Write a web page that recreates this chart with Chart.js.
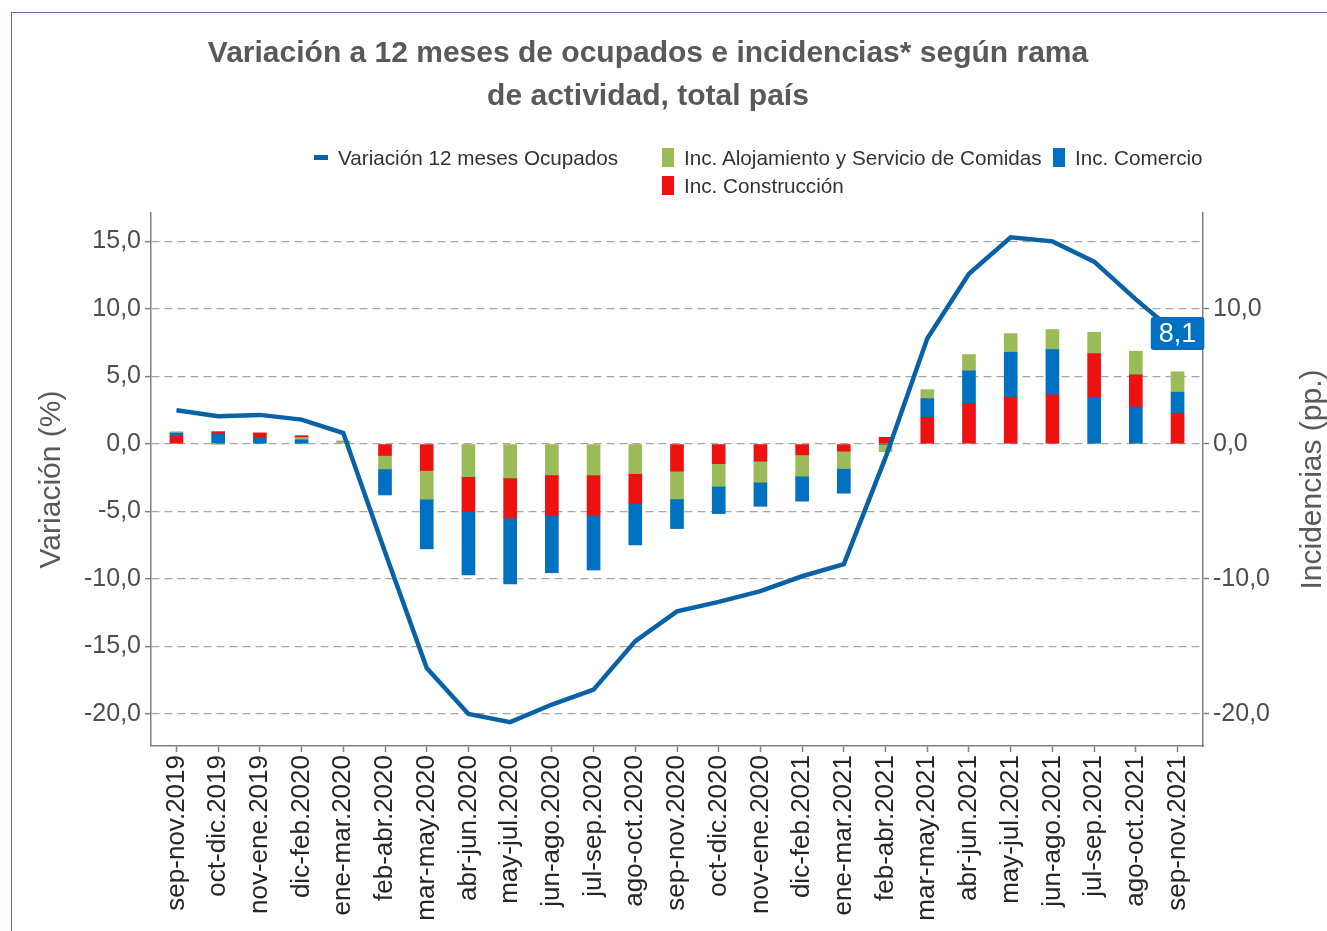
<!DOCTYPE html>
<html lang="es">
<head>
<meta charset="utf-8">
<title>Variación a 12 meses de ocupados e incidencias</title>
<script src="https://cdn.jsdelivr.net/npm/chart.js@4.4.1/dist/chart.umd.min.js"></script>
<style>
html,body{margin:0;padding:0;background:#fff;overflow:hidden;}
#wrap{position:relative;width:1327px;height:931px;font-family:"Liberation Sans",Arial,sans-serif;}
#chart{position:absolute;left:0;top:0;}
#frame{position:absolute;left:11px;top:12px;width:1340px;height:940px;border-left:1.5px solid #4f6fa6;border-top:1.5px solid #4f6fa6;}
#title{position:absolute;left:0;top:30px;width:1296px;text-align:center;font-weight:bold;font-size:30px;line-height:43px;color:#595959;}
.key{position:absolute;}
.lbl{position:absolute;font-size:20.7px;line-height:24px;color:#333;white-space:nowrap;}
</style>
</head>
<body>
<div id="wrap">
<div id="frame"></div>
<canvas id="chart" width="1327" height="931"></canvas>
<div id="title">Variación a 12 meses de ocupados e incidencias* según rama<br>de actividad, total país</div>
<div id="legend"></div>
</div>
<script>
const labels = ["sep-nov.2019","oct-dic.2019","nov-ene.2019","dic-feb.2020","ene-mar.2020","feb-abr.2020",
"mar-may.2020","abr-jun.2020","may-jul.2020","jun-ago.2020","jul-sep.2020","ago-oct.2020","sep-nov.2020",
"oct-dic.2020","nov-ene.2020","dic-feb.2021","ene-mar.2021","feb-abr.2021","mar-may.2021","abr-jun.2021",
"may-jul.2021","jun-ago.2021","jul-sep.2021","ago-oct.2021","sep-nov.2021"];

// variación 12 meses ocupados (%)
const ocupados = [2.5,2.05,2.15,1.8,0.8,-8.0,-16.6,-20.0,-20.6,-19.3,-18.2,-14.6,-12.4,
-11.7,-10.9,-9.8,-8.9,-1.0,7.8,12.6,15.3,15.0,13.5,10.7,8.1];

// incidencias (pp.)
const alojamiento = [0.1,-0.05,0,0.17,0.2,-0.99,-2.12,-2.42,-2.52,-2.30,-2.30,-2.2,-2.05,
-1.68,-1.56,-1.58,-1.28,-0.52,0.67,1.21,1.38,1.48,1.58,1.75,1.51];
const comercio = [0.25,0.74,0.44,0.3,0,-1.93,-3.68,-4.69,-4.89,-4.25,-4.05,-3.06,-2.2,
-2.02,-1.78,-1.85,-1.83,-0.05,1.38,2.42,3.33,3.36,3.46,2.72,1.58];
const construccion = [0.55,0.17,0.37,0.14,0,-0.86,-1.97,-2.59,-2.96,-2.99,-2.99,-2.22,-2.02,
-1.46,-1.28,-0.81,-0.54,0.49,1.97,2.99,3.46,3.63,3.23,2.40,2.25];

const lineName = "Variación 12 meses Ocupados";
const lineColor = "#0a62a6";
const series = [
  {name:"Inc. Alojamiento y Servicio de Comidas", data:alojamiento, color:"#9bbb59"},
  {name:"Inc. Comercio", data:comercio, color:"#0070c0"},
  {name:"Inc. Construcción", data:construccion, color:"#ee1111"}
];

// in each period the pieces are stacked from the largest value to the smallest
const ranked = series.map(() => ({data:[], bg:[]}));
labels.forEach((l, i) => {
  const parts = series.map(s => ({v:s.data[i], c:s.color})).sort((a, b) => b.v - a.v);
  parts.forEach((p, k) => { ranked[k].data.push({x:i, y:p.v}); ranked[k].bg.push(p.c); });
});

const fmt = v => v.toFixed(1).replace(".", ",");

const lastLabel = {
  id:"lastLabel",
  afterDatasetsDraw(chart){
    const n = ocupados.length - 1;
    const pt = chart.getDatasetMeta(0).data[n];
    const ctx = chart.ctx;
    const txt = fmt(ocupados[n]);
    ctx.save();
    ctx.font = "27px 'Liberation Sans', Arial";
    const w = ctx.measureText(txt).width + 16, h = 33;
    ctx.fillStyle = "#0070c0";
    ctx.beginPath();
    ctx.roundRect(pt.x - w/2, pt.y - h/2 - 1, w, h, 3);
    ctx.fill();
    ctx.fillStyle = "#fff";
    ctx.textAlign = "center";
    ctx.textBaseline = "middle";
    ctx.fillText(txt, pt.x, pt.y);
    ctx.restore();
  }
};

const rightTitle = {
  id:"rightTitle",
  afterDraw(chart){
    const ctx = chart.ctx, a = chart.chartArea;
    ctx.save();
    ctx.translate(1313, (a.top + a.bottom)/2);
    ctx.rotate(-Math.PI/2);
    ctx.font = "30px 'Liberation Sans', Arial";
    ctx.fillStyle = "#595959";
    ctx.textAlign = "center";
    ctx.textBaseline = "middle";
    ctx.fillText("Incidencias (pp.)", 0, 0);
    ctx.restore();
  }
};

const datasets = [{
  type:"line", label:lineName, data:ocupados.map((v, i) => ({x:i, y:v})),
  borderColor:lineColor, borderWidth:4.5, pointRadius:0, tension:0, order:0, yAxisID:"y"
}].concat(ranked.map((r, k) => ({
  type:"bar", label:"pos" + k, data:r.data, backgroundColor:r.bg, borderWidth:0,
  barThickness:13, stack:"inc", order:1, yAxisID:"y"
})));

const yMin = -22.37, yMax = 17.1;
const tickFont = {family:"'Liberation Sans', Arial", size:25};

new Chart(document.getElementById("chart"), {
  data:{datasets:datasets},
  plugins:[lastLabel, rightTitle],
  options:{
    responsive:false,
    animation:false,
    layout:{padding:{top:213, left:0, right:0, bottom:0}},
    plugins:{legend:{display:false}, title:{display:false}, tooltip:{enabled:false}},
    scales:{
      x:{
        type:"linear",
        stacked:true,
        offset:false,
        min:-0.61, max:labels.length - 0.39,
        grid:{offset:false, drawOnChartArea:false, drawTicks:true, tickLength:6, tickColor:"#808080", tickWidth:1.5},
        border:{display:true, color:"#808080", width:1.5},
        ticks:{stepSize:1, includeBounds:false, autoSkip:false, minRotation:90, maxRotation:90, padding:3,
          color:"#262626", font:{family:"'Liberation Sans', Arial", size:26},
          callback:v => labels[v]},
        afterFit(s){ s.height = 185; }
      },
      y:{
        stacked:true,
        position:"left",
        min:yMin, max:yMax,
        grid:{color:"#a6a6a6", lineWidth:1.3, tickLength:6, tickColor:"#808080", tickWidth:1.5},
        border:{display:true, color:"#808080", width:1.5, dash:[8,5]},
        ticks:{stepSize:5, includeBounds:false, padding:4, color:"#4d4d4d", font:tickFont, callback:v => fmt(v)},
        title:{display:true, text:"Variación (%)", color:"#595959", padding:{top:34, bottom:0},
          font:{family:"'Liberation Sans', Arial", size:30}},
        afterFit(s){ s.width = 151; }
      },
      y2:{
        position:"right",
        min:yMin, max:yMax,
        grid:{drawOnChartArea:false, tickLength:6, tickColor:"#808080", tickWidth:1.5},
        border:{display:true, color:"#808080", width:1.5},
        ticks:{stepSize:10, includeBounds:false, padding:4, color:"#4d4d4d", font:tickFont, callback:v => fmt(v)},
        afterFit(s){ s.width = 124; }
      }
    }
  }
});

// legend laid out like the original: three keys on the first row, one below the second
const legendItems = [
  {text:lineName, color:lineColor, line:true, x:314, y:158},
  {text:series[0].name, color:series[0].color, x:662, y:158},
  {text:series[1].name, color:series[1].color, x:1053, y:158},
  {text:series[2].name, color:series[2].color, x:662, y:186}
];
const legend = document.getElementById("legend");
legendItems.forEach(it => {
  const key = document.createElement("div");
  key.className = "key";
  key.style.background = it.color;
  if (it.line) {
    key.style.left = it.x + "px"; key.style.top = (it.y - 3) + "px";
    key.style.width = "14px"; key.style.height = "5px";
  } else {
    key.style.left = it.x + "px"; key.style.top = (it.y - 10) + "px";
    key.style.width = "12px"; key.style.height = "19px";
  }
  const lbl = document.createElement("div");
  lbl.className = "lbl";
  lbl.textContent = it.text;
  lbl.style.left = (it.x + (it.line ? 24 : 22)) + "px";
  lbl.style.top = (it.y - 12) + "px";
  legend.appendChild(key);
  legend.appendChild(lbl);
});
</script>
</body>
</html>
